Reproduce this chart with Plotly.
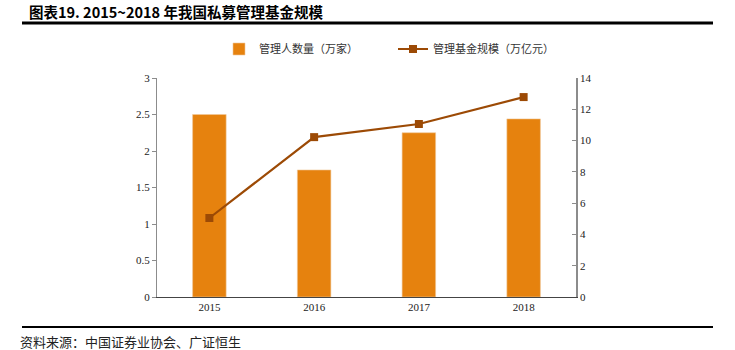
import plotly.graph_objects as go

years = ["2015", "2016", "2017", "2018"]
managers = [2.50, 1.74, 2.25, 2.44]          # 管理人数量（万家）
fund_scale = [5.05, 10.22, 11.06, 12.78]     # 管理基金规模（万亿元）

bar_color = "#E6820E"
line_color = "#9C4A05"
axis_color = "#8C8C8C"
num_font = "Liberation Serif, Times New Roman, serif"
cjk_font = "Noto Sans CJK SC, sans-serif"

L, R, T, B = 157, 576, 78, 297
W, H = 735, 350

def px(x):
    return (x - L) / (R - L)

def py(y):
    return (B - y) / (B - T)

fig = go.Figure()
fig.add_trace(go.Bar(
    x=years, y=managers, name="管理人数量（万家）",
    marker=dict(color=bar_color, line=dict(color="#F0C89A", width=0.6)),
    width=0.32, yaxis="y",
))
fig.add_trace(go.Scatter(
    x=years, y=fund_scale, name="管理基金规模（万亿元）",
    mode="lines+markers",
    line=dict(color=line_color, width=2.2),
    marker=dict(symbol="square", size=8, color=line_color),
    yaxis="y2",
))

fig.update_layout(
    width=W, height=H,
    margin=dict(l=L, r=W - R, t=T, b=H - B),
    paper_bgcolor="white", plot_bgcolor="white",
    showlegend=True,
    legend=dict(
        orientation="h", x=px(393), y=py(49), xanchor="center", yanchor="middle",
        font=dict(family=cjk_font, size=11, color="#333333"),
        itemwidth=30, tracegroupgap=0,
        entrywidth=129, entrywidthmode="pixels",
    ),
    xaxis=dict(
        type="category", showline=True, linecolor="#444444", linewidth=1,
        ticks="", showgrid=False, zeroline=False,
        tickfont=dict(family=num_font, size=11, color="#222222"),
        range=[-0.5, 3.5],
    ),
    yaxis=dict(
        range=[0, 3], dtick=0.5, showline=True, linecolor=axis_color, linewidth=1,
        ticks="outside", ticklen=4, tickcolor=axis_color,
        showgrid=False, zeroline=False,
        tickfont=dict(family=num_font, size=11, color="#222222"),
    ),
    yaxis2=dict(
        range=[0, 14], dtick=2, overlaying="y", side="right",
        showline=True, linecolor=axis_color, linewidth=1.5,
        ticks="inside", ticklen=4, tickcolor=axis_color,
        showgrid=False, zeroline=False,
        tickfont=dict(family=num_font, size=11, color="#222222"),
    ),
    font=dict(family=cjk_font),
)

# Title and frame lines
fig.add_annotation(
    xref="paper", yref="paper", x=px(27), y=py(12), xanchor="left", yanchor="middle",
    text="<b>图表19. 2015~2018 年我国私募管理基金规模</b>", showarrow=False,
    font=dict(family="Noto Sans CJK SC, sans-serif", size=14.5, color="#000000"),
)
fig.add_shape(type="line", xref="paper", yref="paper",
              x0=px(22), x1=px(713), y0=py(23), y1=py(23),
              line=dict(color="#000000", width=3))
fig.add_shape(type="line", xref="paper", yref="paper",
              x0=px(22), x1=px(713), y0=py(327), y1=py(327),
              line=dict(color="#000000", width=2))
fig.add_annotation(
    xref="paper", yref="paper", x=px(18), y=py(341), xanchor="left", yanchor="middle",
    text="资料来源：中国证券业协会、广证恒生", showarrow=False,
    font=dict(family=cjk_font, size=13, color="#222222"),
)

fig.write_html("out.html")
